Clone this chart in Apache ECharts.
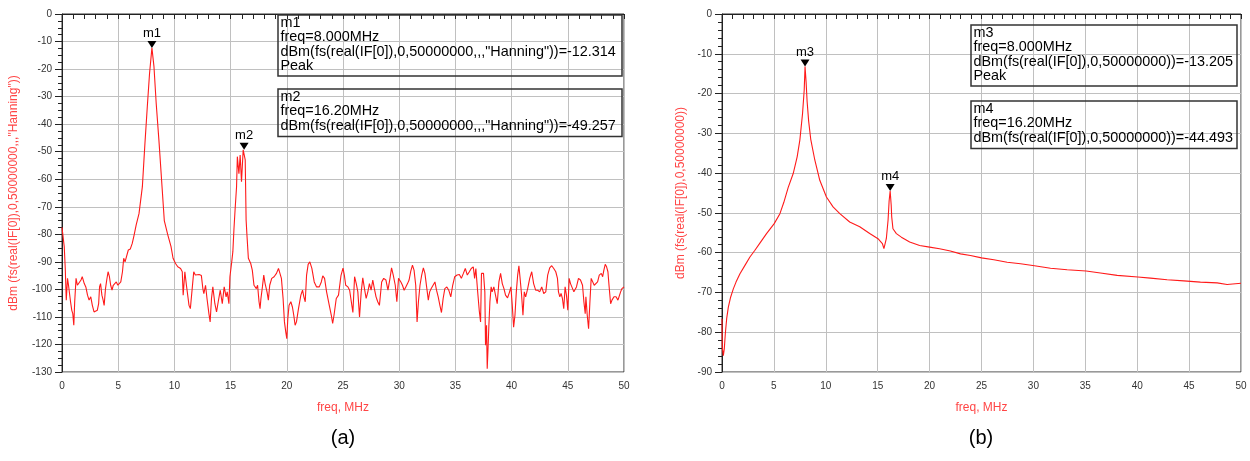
<!DOCTYPE html>
<html>
<head>
<meta charset="utf-8">
<script src="https://cdn.jsdelivr.net/npm/echarts@6/dist/echarts.min.js"></script>
<style>
  html, body { margin: 0; padding: 0; background: #fff; }
  #chart { width: 1250px; height: 461px; }
</style>
</head>
<body>
<div id="chart"></div>
<script>
// spectrum (a): Hanning window, [freq MHz, dBm]
const spectrumA = [
  [0, -77.5], [0.09, -77.5], [0.2, -84.5], [0.29, -92.4], [0.38, -103.9], [0.49, -96], [0.58, -98.5],
  [0.67, -97.9], [0.76, -104.5], [0.87, -107.6], [0.96, -108.8], [1.05, -113], [1.13, -104.5],
  [1.25, -96], [1.37, -98.5], [1.54, -98.5], [1.69, -96.6], [1.8, -95.4], [1.98, -97.9], [2.12, -99.1],
  [2.27, -102.1], [2.41, -103.9], [2.56, -102.7], [2.7, -105.8], [2.85, -108.2], [2.99, -108.8],
  [3.14, -107.6], [3.26, -105.2], [3.34, -99.1], [3.43, -97.9], [3.55, -102.1], [3.66, -103.9],
  [3.75, -105.8], [3.87, -99.7], [3.98, -96.6], [4.1, -93.6], [4.22, -95.4], [4.33, -98.5],
  [4.45, -100.3], [4.56, -98.5], [4.68, -97.9], [4.83, -97.3], [4.97, -98.5], [5.12, -99.1],
  [5.23, -97.3], [5.38, -93.6], [5.49, -88.7], [5.61, -90], [5.76, -90.6], [5.9, -85.7], [6.08, -85.3],
  [6.25, -83.3], [6.42, -80.2], [6.6, -76.6], [6.85, -72.5], [7.15, -62.7], [7.38, -46.9], [7.59, -33.6],
  [7.79, -21.5], [8.0, -12.3], [8.18, -19], [8.38, -32.4], [8.62, -45.7], [8.9, -62.7], [9.1, -75],
  [9.4, -80], [9.7, -84.5], [9.88, -88.7], [10.1, -90.6], [10.3, -91.8], [10.55, -92.4], [10.7, -93.6],
  [10.78, -102.1], [10.93, -93.6], [11.07, -98.5], [11.3, -105.8], [11.42, -107], [11.57, -107],
  [11.72, -93.6], [11.86, -94.8], [12.0, -94.6], [12.2, -94.6], [12.4, -95], [12.53, -99.7],
  [12.62, -101.5], [12.77, -98.5], [12.9, -103.3], [13.07, -108.8], [13.18, -111.8], [13.3, -103.3],
  [13.42, -99.1], [13.6, -105.2], [13.75, -108.2], [13.9, -104.5], [14.08, -100.3], [14.26, -105.2],
  [14.43, -99.1], [14.6, -102.7], [14.7, -100.9], [14.85, -105.2], [14.94, -95.4], [15.1, -90],
  [15.2, -86.3], [15.3, -78], [15.4, -71], [15.53, -62.7], [15.6, -51.8], [15.74, -58], [15.85, -51.2],
  [15.97, -60.9], [16.12, -49.3], [16.2, -49.3], [16.3, -53], [16.38, -74.8], [16.45, -80],
  [16.58, -88.7], [16.79, -90.6], [16.93, -93], [17.08, -98.5], [17.23, -97.9], [17.29, -99.7],
  [17.4, -98.5], [17.53, -104.5], [17.62, -107], [17.7, -103.3], [17.83, -99.1], [17.95, -94.8],
  [18.07, -97.9], [18.24, -100.9], [18.36, -103.9], [18.48, -98.5], [18.66, -96], [18.87, -95.4],
  [19.08, -94.2], [19.26, -92.4], [19.43, -92.2], [19.52, -96], [19.67, -103.3], [19.79, -111.8],
  [19.91, -115.5], [20.0, -117.9], [20.09, -110.6], [20.2, -105.8], [20.36, -104.5], [20.5, -106.4],
  [20.62, -109.4], [20.74, -113], [20.86, -111.8], [21.04, -107], [21.25, -102.1], [21.4, -100.3],
  [21.52, -102.7], [21.64, -104.5], [21.76, -94.8], [21.9, -90.9], [22.05, -90], [22.23, -92.4],
  [22.44, -97.3], [22.65, -99.1], [22.89, -99.1], [23.07, -97.3], [23.2, -95.1], [23.36, -96],
  [23.54, -100.9], [23.78, -105.8], [23.96, -109.4], [24.08, -112.4], [24.2, -109.4], [24.4, -103.3],
  [24.6, -102.1], [24.82, -95], [25.0, -92.3], [25.12, -94.8], [25.24, -98.5], [25.44, -99.1],
  [25.59, -100.3], [25.74, -104.5], [25.88, -108.4], [26.03, -95.4], [26.18, -97.9], [26.32, -100.9],
  [26.47, -110], [26.62, -100.9], [26.76, -95.8], [26.91, -99.7], [27.06, -103.3], [27.21, -100.9],
  [27.35, -97.9], [27.5, -100.3], [27.65, -96.6], [27.79, -99.7], [27.94, -102.7], [28.09, -104.5],
  [28.24, -105.8], [28.44, -97.3], [28.62, -96], [28.82, -96.6], [29.0, -100.3], [29.18, -96],
  [29.32, -92.2], [29.47, -94.8], [29.65, -98.5], [29.79, -104.5], [29.94, -96], [30.15, -97.3],
  [30.29, -98.5], [30.44, -100.3], [30.59, -99.1], [30.74, -97.9], [30.88, -96.6], [31.03, -93.4],
  [31.18, -91.2], [31.32, -93], [31.47, -98.5], [31.59, -111.8], [31.71, -104.5], [31.85, -98.5],
  [32.0, -94.8], [32.15, -92.2], [32.29, -94.2], [32.44, -99.1], [32.59, -103.9], [32.71, -100.9],
  [32.85, -99.7], [33.0, -99.1], [33.18, -97.3], [33.32, -100.3], [33.47, -102.7], [33.62, -105.8],
  [33.76, -108.4], [33.91, -103.3], [34.06, -99.7], [34.24, -99.1], [34.41, -100.3], [34.59, -102.7],
  [34.76, -98.5], [34.94, -95.4], [35.15, -94.8], [35.35, -94.6], [35.53, -96], [35.71, -94.2],
  [35.88, -92.4], [36.06, -94.8], [36.24, -93.6], [36.41, -92.4], [36.59, -91.8], [36.71, -96],
  [36.82, -92.4], [36.97, -100.3], [37.12, -107.6], [37.24, -111.8], [37.32, -94.2], [37.5, -94.2],
  [37.62, -101], [37.68, -120.3], [37.77, -113], [37.83, -128.8], [37.89, -122.8], [37.98, -113],
  [38.07, -104.5], [38.18, -99.1], [38.27, -100.9], [38.42, -99.1], [38.57, -99.7], [38.72, -105.2],
  [38.87, -97.3], [39.02, -94.2], [39.17, -97.9], [39.32, -99.7], [39.46, -102.1], [39.64, -103.1],
  [39.82, -100.9], [39.94, -99.1], [40.06, -105.8], [40.18, -113.7], [40.3, -109.4], [40.42, -100.9],
  [40.54, -94.8], [40.65, -91.4], [40.77, -96.6], [40.89, -102.1], [41.01, -109.4], [41.13, -100.9],
  [41.25, -102.7], [41.43, -99.7], [41.61, -96], [41.79, -93.6], [41.96, -97.9], [42.14, -100.3],
  [42.32, -100.3], [42.5, -100.9], [42.68, -99.1], [42.86, -101.5], [43.04, -100.9], [43.21, -94.8],
  [43.39, -92.2], [43.57, -91.4], [43.75, -92.4], [43.93, -93.6], [44.08, -96], [44.17, -100.9],
  [44.29, -102.7], [44.4, -101.5], [44.52, -103.3], [44.64, -107], [44.76, -99.1], [44.88, -102.1],
  [45.0, -107.6], [45.12, -96], [45.24, -97.9], [45.36, -99.1], [45.54, -100.9], [45.65, -100.9],
  [45.77, -99.1], [45.95, -96], [46.13, -96.6], [46.31, -98.5], [46.43, -104.5], [46.55, -108.8],
  [46.61, -102.7], [46.73, -109.4], [46.85, -114.3], [46.96, -105.2], [47.08, -96], [47.2, -96.6],
  [47.35, -98.5], [47.5, -99.1], [47.65, -97.3], [47.8, -94.8], [47.98, -94.2], [48.1, -95.4],
  [48.21, -93], [48.33, -90.9], [48.45, -91.8], [48.57, -93.6], [48.69, -99.7], [48.81, -105.2],
  [48.93, -103.9], [49.11, -102.7], [49.29, -102.7], [49.46, -103.9], [49.58, -104.5], [49.7, -100.9],
  [49.82, -99.7], [50.0, -99.1]
]

// spectrum (b): no window
const spectrumB = [
  [0, -76.6], [0.03, -83.8], [0.13, -85.9], [0.22, -84.2], [0.32, -80.4], [0.45, -76.6], [0.61, -73.7],
  [0.83, -71.2], [1.09, -69.1], [1.35, -67.4], [1.73, -65.3], [2.21, -63.2], [2.69, -61.1], [3.17, -59.4],
  [3.65, -57.6], [4.29, -55.2], [5.03, -52.7], [5.58, -50.2], [5.95, -47.4], [6.38, -43.6], [6.86, -40.1],
  [7.24, -35.9], [7.5, -31.7], [7.76, -25], [7.92, -19.1], [8.0, -13.2], [8.1, -17], [8.2, -22],
  [8.35, -27], [8.55, -31.5], [8.94, -36.7], [9.42, -41.8], [10.06, -46], [10.7, -48.5], [11.35, -50.2],
  [12.3, -52.3], [13.27, -53.5], [14.23, -55.2], [15.03, -56.5], [15.45, -57.7], [15.6, -59],
  [15.83, -56.5], [16.0, -51.8], [16.1, -47], [16.2, -44.5], [16.3, -48], [16.35, -51], [16.47, -54],
  [16.8, -55.2], [17.28, -56.1], [18.08, -57.3], [19.04, -58.2], [20.0, -58.6], [20.96, -59],
  [22.0, -59.6], [22.98, -60.3], [23.94, -60.7], [25.0, -61.3], [26.19, -61.8], [27.47, -62.4],
  [28.76, -62.8], [30.1, -63.3], [31.65, -63.9], [33.25, -64.3], [35.08, -64.6], [36.46, -65.1],
  [38.07, -65.7], [40.06, -66.1], [41.28, -66.4], [42.88, -66.8], [44.49, -67.1], [46.09, -67.4],
  [47.7, -67.6], [48.66, -68], [50, -67.7]
]

const exprA = 'dBm(fs(real(IF[0]),0,50000000,,,"Hanning"))'
const exprB = 'dBm(fs(real(IF[0]),0,50000000))'

const markersA = [
  { name: 'm1', freq: '8.000', coord: [8, -12.314], value: '-12.314', peak: true },
  { name: 'm2', freq: '16.20', coord: [16.2, -49.257], value: '-49.257', peak: false },
]
const markersB = [
  { name: 'm3', freq: '8.000', coord: [8, -13.205], value: '-13.205', peak: true },
  { name: 'm4', freq: '16.20', coord: [16.2, -44.493], value: '-44.493', peak: false },
]

const FONT = '"Liberation Sans", Arial, sans-serif'
const RED = '#ff1a1a'

const chart = echarts.init(document.getElementById('chart'), null, { renderer: 'canvas' })

function xAxisFor(gridIndex) {
  return {
    type: 'value',
    gridIndex,
    min: 0,
    max: 50,
    interval: 5,
    name: 'freq, MHz',
    nameLocation: 'middle',
    nameGap: 30,
    nameTextStyle: { color: '#ff4545', fontSize: 12, fontFamily: FONT },
    axisLine: { lineStyle: { color: '#222', width: 1 } },
    axisTick: { length: 5, lineStyle: { color: '#222' } },
    minorTick: { show: true, splitNumber: 5, length: 5, lineStyle: { color: '#222' } },
    axisLabel: { color: '#333', fontSize: 10, fontFamily: FONT, margin: 9 },
    splitLine: { show: true, lineStyle: { color: '#c0c0c0', width: 1 } },
  }
}

function yAxisFor(gridIndex, min, split, name, gap) {
  return {
    type: 'value',
    gridIndex,
    min,
    max: 0,
    interval: 10,
    name,
    nameLocation: 'middle',
    nameRotate: 90,
    nameGap: gap,
    nameTextStyle: { color: '#ff4545', fontSize: 12, fontFamily: FONT },
    axisLine: { show: true, lineStyle: { color: '#222', width: 1 } },
    axisTick: { length: 7, lineStyle: { color: '#222' } },
    minorTick: { show: true, splitNumber: split, length: 4, lineStyle: { color: '#222' } },
    axisLabel: { color: '#333', fontSize: 10, fontFamily: FONT, margin: 10 },
    splitLine: { show: true, lineStyle: { color: '#c0c0c0', width: 1 } },
  }
}

function markPointFor(markers) {
  return {
    symbol: 'path://M0,0L10,0L5,8Z',
    symbolSize: [9, 7],
    symbolOffset: [0, -3.5],
    itemStyle: { color: '#000' },
    label: { show: true, position: 'top', distance: 1, color: '#000', fontSize: 13, fontFamily: FONT, formatter: '{b}' },
    data: markers.map(m => ({ name: m.name, coord: m.coord })),
  }
}

function boxFor(m, expr, left, top, width) {
  const lines = [m.name, 'freq=' + m.freq + 'MHz', expr + '=' + m.value]
  if (m.peak) lines.push('Peak')
  const height = m.peak ? 61 : 47.5
  return [
    {
      type: 'rect',
      shape: { x: left, y: top, width, height },
      style: { fill: 'none', stroke: '#333', lineWidth: 1.5 },
      z: 100,
    },
    {
      type: 'text',
      x: left + 2.5,
      y: top + 1,
      style: { text: lines.join('\n'), fill: '#000', font: '14.4px ' + FONT, lineHeight: 14.3 },
      z: 101,
    },
  ]
}

const option = {
  animation: false,
  backgroundColor: '#fff',
  grid: [
    { left: 62, top: 14, width: 562, height: 358, show: true, borderColor: '#333', borderWidth: 1 },
    { left: 722, top: 14, width: 519, height: 358, show: true, borderColor: '#333', borderWidth: 1 },
  ],
  xAxis: [xAxisFor(0), xAxisFor(1)],
  yAxis: [
    yAxisFor(0, -130, 4, 'dBm (fs(real(IF[0]),0,50000000,,,"Hanning"))', 42),
    yAxisFor(1, -90, 5, 'dBm (fs(real(IF[0]),0,50000000))', 35),
  ],
  series: [
    {
      type: 'line',
      xAxisIndex: 0,
      yAxisIndex: 0,
      data: spectrumA,
      showSymbol: false,
      lineStyle: { color: RED, width: 1.1 },
      markPoint: markPointFor(markersA),
    },
    {
      type: 'line',
      xAxisIndex: 1,
      yAxisIndex: 1,
      data: spectrumB,
      showSymbol: false,
      lineStyle: { color: RED, width: 1.1 },
      markPoint: markPointFor(markersB),
    },
  ],
  graphic: [
    ...boxFor(markersA[0], exprA, 278, 15, 344),
    ...boxFor(markersA[1], exprA, 278, 89, 344),
    ...boxFor(markersB[0], exprB, 971, 25, 266),
    ...boxFor(markersB[1], exprB, 971, 101, 266),
    {
      type: 'text', x: 343, y: 438,
      style: { text: '(a)', fill: '#000', font: '20px ' + FONT, align: 'center', verticalAlign: 'middle' },
    },
    {
      type: 'text', x: 981, y: 438,
      style: { text: '(b)', fill: '#000', font: '20px ' + FONT, align: 'center', verticalAlign: 'middle' },
    },
  ],
}

chart.setOption(option)
</script>
</body>
</html>
